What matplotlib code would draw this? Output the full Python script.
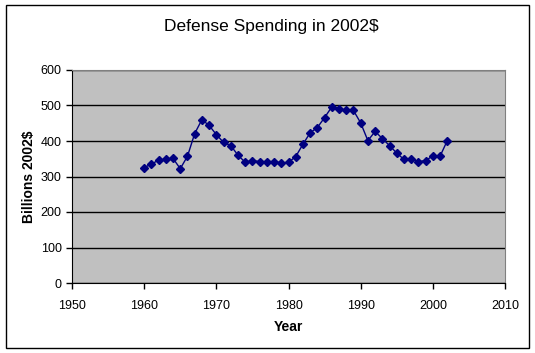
#!/usr/bin/env python3
"""Defense spending in constant 2002 dollars, 1960-2002."""

import matplotlib
matplotlib.use('Agg')
import matplotlib.pyplot as plt
from matplotlib.patches import Rectangle

years = list(range(1960, 2003))
spending = [325, 335, 346, 348, 351, 322, 357, 421, 460, 444,
            418, 396, 387, 360, 340, 345, 342, 342, 342, 338,
            340, 356, 391, 423, 438, 466, 496, 491, 486, 486,
            451, 401, 427, 407, 387, 366, 348, 348, 342, 345,
            358, 357, 401]

x_ticks = [1950, 1960, 1970, 1980, 1990, 2000, 2010]
y_ticks = [0, 100, 200, 300, 400, 500, 600]

NAVY = '#000080'


def main():
    plt.rcParams['font.family'] = ['Liberation Sans', 'DejaVu Sans']

    fig = plt.figure(figsize=(5.35, 3.53), dpi=100)
    fig.patches.append(Rectangle((5.5 / 535, 5 / 353), 523.5 / 535, 343 / 353,
                                 transform=fig.transFigure, fill=False,
                                 edgecolor='black', linewidth=1))

    ax = fig.add_axes([72 / 535, 1 - 283 / 353, 433 / 535, 213 / 353])
    ax.set_facecolor('#C0C0C0')
    ax.plot(years, spending, color=NAVY, linewidth=1, marker='D',
            markersize=4.5, markeredgecolor=NAVY, markerfacecolor=NAVY)

    ax.set_xlim(1950, 2010)
    ax.set_ylim(0, 600)
    ax.set_xticks(x_ticks)
    ax.set_yticks(y_ticks)
    ax.yaxis.grid(True, color='black', linewidth=1)
    ax.set_axisbelow(True)
    ax.tick_params(labelsize=9, length=4, width=1, color='black')
    ax.tick_params(axis='x', pad=8)

    for side in ('top', 'right'):
        ax.spines[side].set_color('#808080')
    for side in ('left', 'bottom'):
        ax.spines[side].set_color('black')

    ax.set_xlabel('Year', fontsize=10, fontweight='bold', labelpad=6)
    ax.set_ylabel('Billions 2002$', fontsize=10, fontweight='bold', labelpad=3)
    fig.text(271 / 535, 1 - 27 / 353, 'Defense Spending in 2002$', ha='center',
             va='center', fontsize=12.5)

    fig.savefig('out.png', dpi=100)
    plt.close(fig)


if __name__ == '__main__':
    main()
